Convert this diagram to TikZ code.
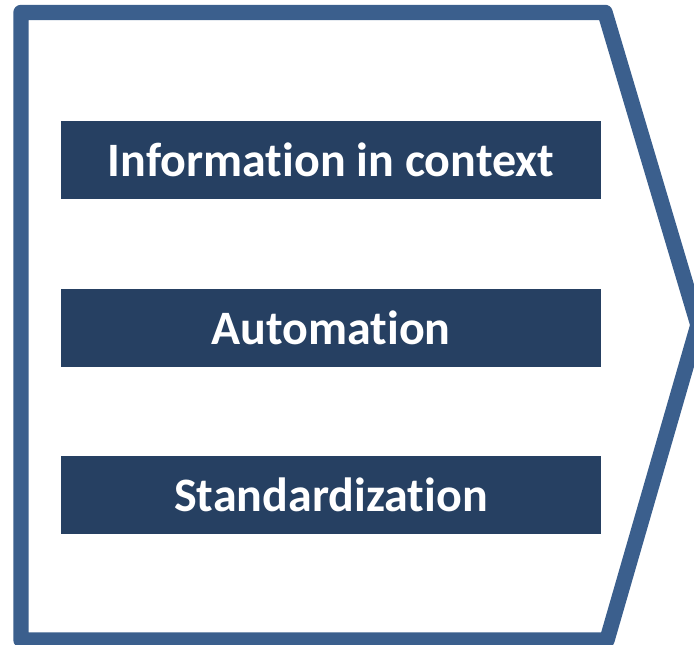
\documentclass[tikz,border=0pt]{standalone}
\usepackage{fontspec}
\setsansfont{Carlito}[Ligatures=NoCommon]
\usepackage{tikz}
\usetikzlibrary{positioning}

\definecolor{rimblue}{RGB}{59,95,141}
\definecolor{boxnavy}{RGB}{38,64,98}

\tikzset{
    itembox/.style={fill=boxnavy, text=white, minimum width=405pt, minimum height=58.5pt,
        inner sep=0pt, font=\sffamily\bfseries\fontsize{36}{43}\selectfont}
}

\begin{document}
\begin{tikzpicture}[x=0.75pt, y=-0.75pt]
            \useasboundingbox (0, 0) rectangle (694, 645);
            %外框: 箭头形五边形
            \draw[rimblue, line width=11.6pt, line join=round]
                (21, 12.5) -- (605, 12.5) -- (698, 325) -- (607, 640) -- (21, 640) -- cycle;
            %三个条目, 自上而下
            \node[itembox] (info) at (331, 160) {Information in context};
            \node[itembox, below=66.75pt of info] (auto) {Automation};
            \node[itembox, below=66.75pt of auto] (stand) {Standardization};
        \end{tikzpicture}
\end{document}
